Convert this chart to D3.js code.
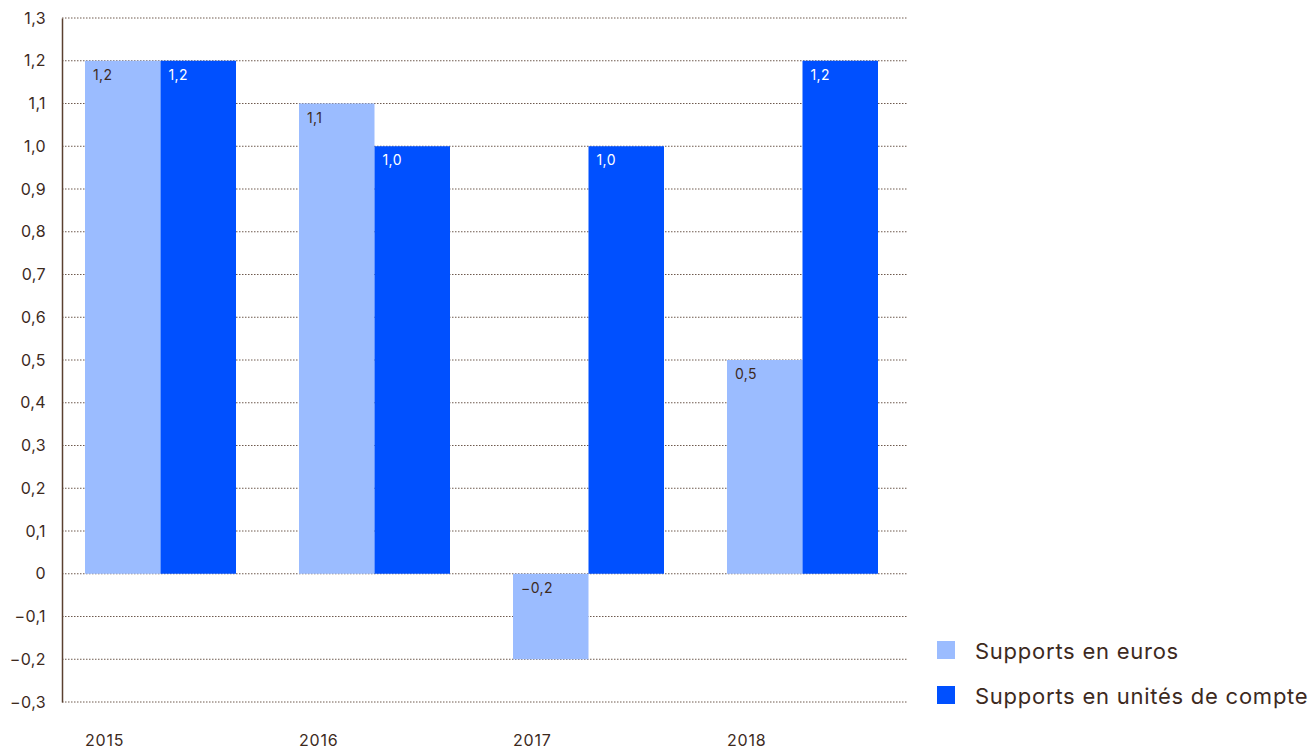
<!DOCTYPE html>
<html lang="fr">
<head>
    <meta charset="UTF-8">
    <title>Supports</title>
    <script src="https://cdn.jsdelivr.net/npm/d3@7"></script>
    <style>
        body { margin: 0; background: #fff; }
        text { font-family: Inter, "Open Sans", sans-serif; fill: #3d2a1e; }
    </style>
</head>
<body>
    <svg width="1312" height="749" id="mainsvg"></svg>
    <script>
        const years = ['2015', '2016', '2017', '2018']
        const euros = [1.2, 1.1, -0.2, 0.5]
        const uc = [1.2, 1.0, 1.0, 1.2]
        const yTicks = [-0.3, -0.2, -0.1, 0, 0.1, 0.2, 0.3, 0.4, 0.5, 0.6, 0.7, 0.8, 0.9, 1.0, 1.1, 1.2, 1.3]
        const seriesNames = ['Supports en euros', 'Supports en unités de compte']
        const colors = ['#9bbcff', '#0050ff']

        const svg = d3.select('#mainsvg')
        const plotLeft = 62, gridRight = 908, plotTop = 18, plotBottom = 702

        const y = d3.scaleLinear().domain([-0.3, 1.3]).range([plotBottom, plotTop])
        const x = d3.scaleBand().domain(years).range([plotLeft, 901])
            .paddingInner(0.2944).paddingOuter(0.1075)
        const xs = d3.scaleBand().domain([0, 1]).range([0, x.bandwidth()])

        const fmt = v => (v === 0 ? '0' : d3.format('.1f')(v).replace('.', ',').replace('-', '\u2212'))

        // grid
        svg.append('g').selectAll('line').data(yTicks).join('line')
            .attr('x1', plotLeft).attr('x2', gridRight)
            .attr('y1', d => y(d)).attr('y2', d => y(d))
            .attr('stroke', '#6e5a4e').attr('stroke-width', 1)
            .attr('stroke-dasharray', '1.5,1.5')

        // bars
        const groups = svg.append('g').selectAll('g').data(years).join('g')
            .attr('transform', d => `translate(${x(d)},0)`)

        groups.each(function (yr, i) {
            const g = d3.select(this)
            const vals = [euros[i], uc[i]]
            vals.forEach((v, k) => {
                g.append('rect')
                    .attr('x', xs(k))
                    .attr('width', xs.bandwidth())
                    .attr('y', y(Math.max(0, v)))
                    .attr('height', Math.abs(y(v) - y(0)))
                    .attr('fill', colors[k])
                g.append('text')
                    .attr('x', xs(k) + 8)
                    .attr('y', y(Math.max(0, v)) + 19)
                    .attr('font-size', 14)
                    .attr('letter-spacing', 0.4)
                    .style('fill', k === 0 ? '#3d2a1e' : '#ffffff')
                    .text(fmt(v))
            })
        })

        // y axis
        const yAxis = d3.axisLeft(y).tickValues(yTicks).tickSize(0).tickPadding(16).tickFormat(fmt)
        const ya = svg.append('g').attr('transform', `translate(${plotLeft},0)`).call(yAxis)
        ya.select('.domain').attr('stroke', '#5a4030').attr('stroke-width', 1.5)
        ya.selectAll('text').attr('font-size', 16).attr('font-family', null).attr('letter-spacing', 0.4)

        // x labels
        svg.append('g').selectAll('text').data(years).join('text')
            .attr('x', d => x(d))
            .attr('y', 746)
            .attr('font-size', 16)
            .attr('letter-spacing', 0.8)
            .text(d => d)

        // legend
        const lg = svg.append('g').selectAll('g').data(seriesNames).join('g')
            .attr('transform', (d, i) => `translate(937,${641 + i * 45})`)
        lg.append('rect').attr('width', 18).attr('height', 18).attr('fill', (d, i) => colors[i])
        lg.append('text').attr('x', 38).attr('y', 18).attr('font-size', 22)
            .attr('letter-spacing', 0.75).text(d => d)
    </script>
</body>
</html>
